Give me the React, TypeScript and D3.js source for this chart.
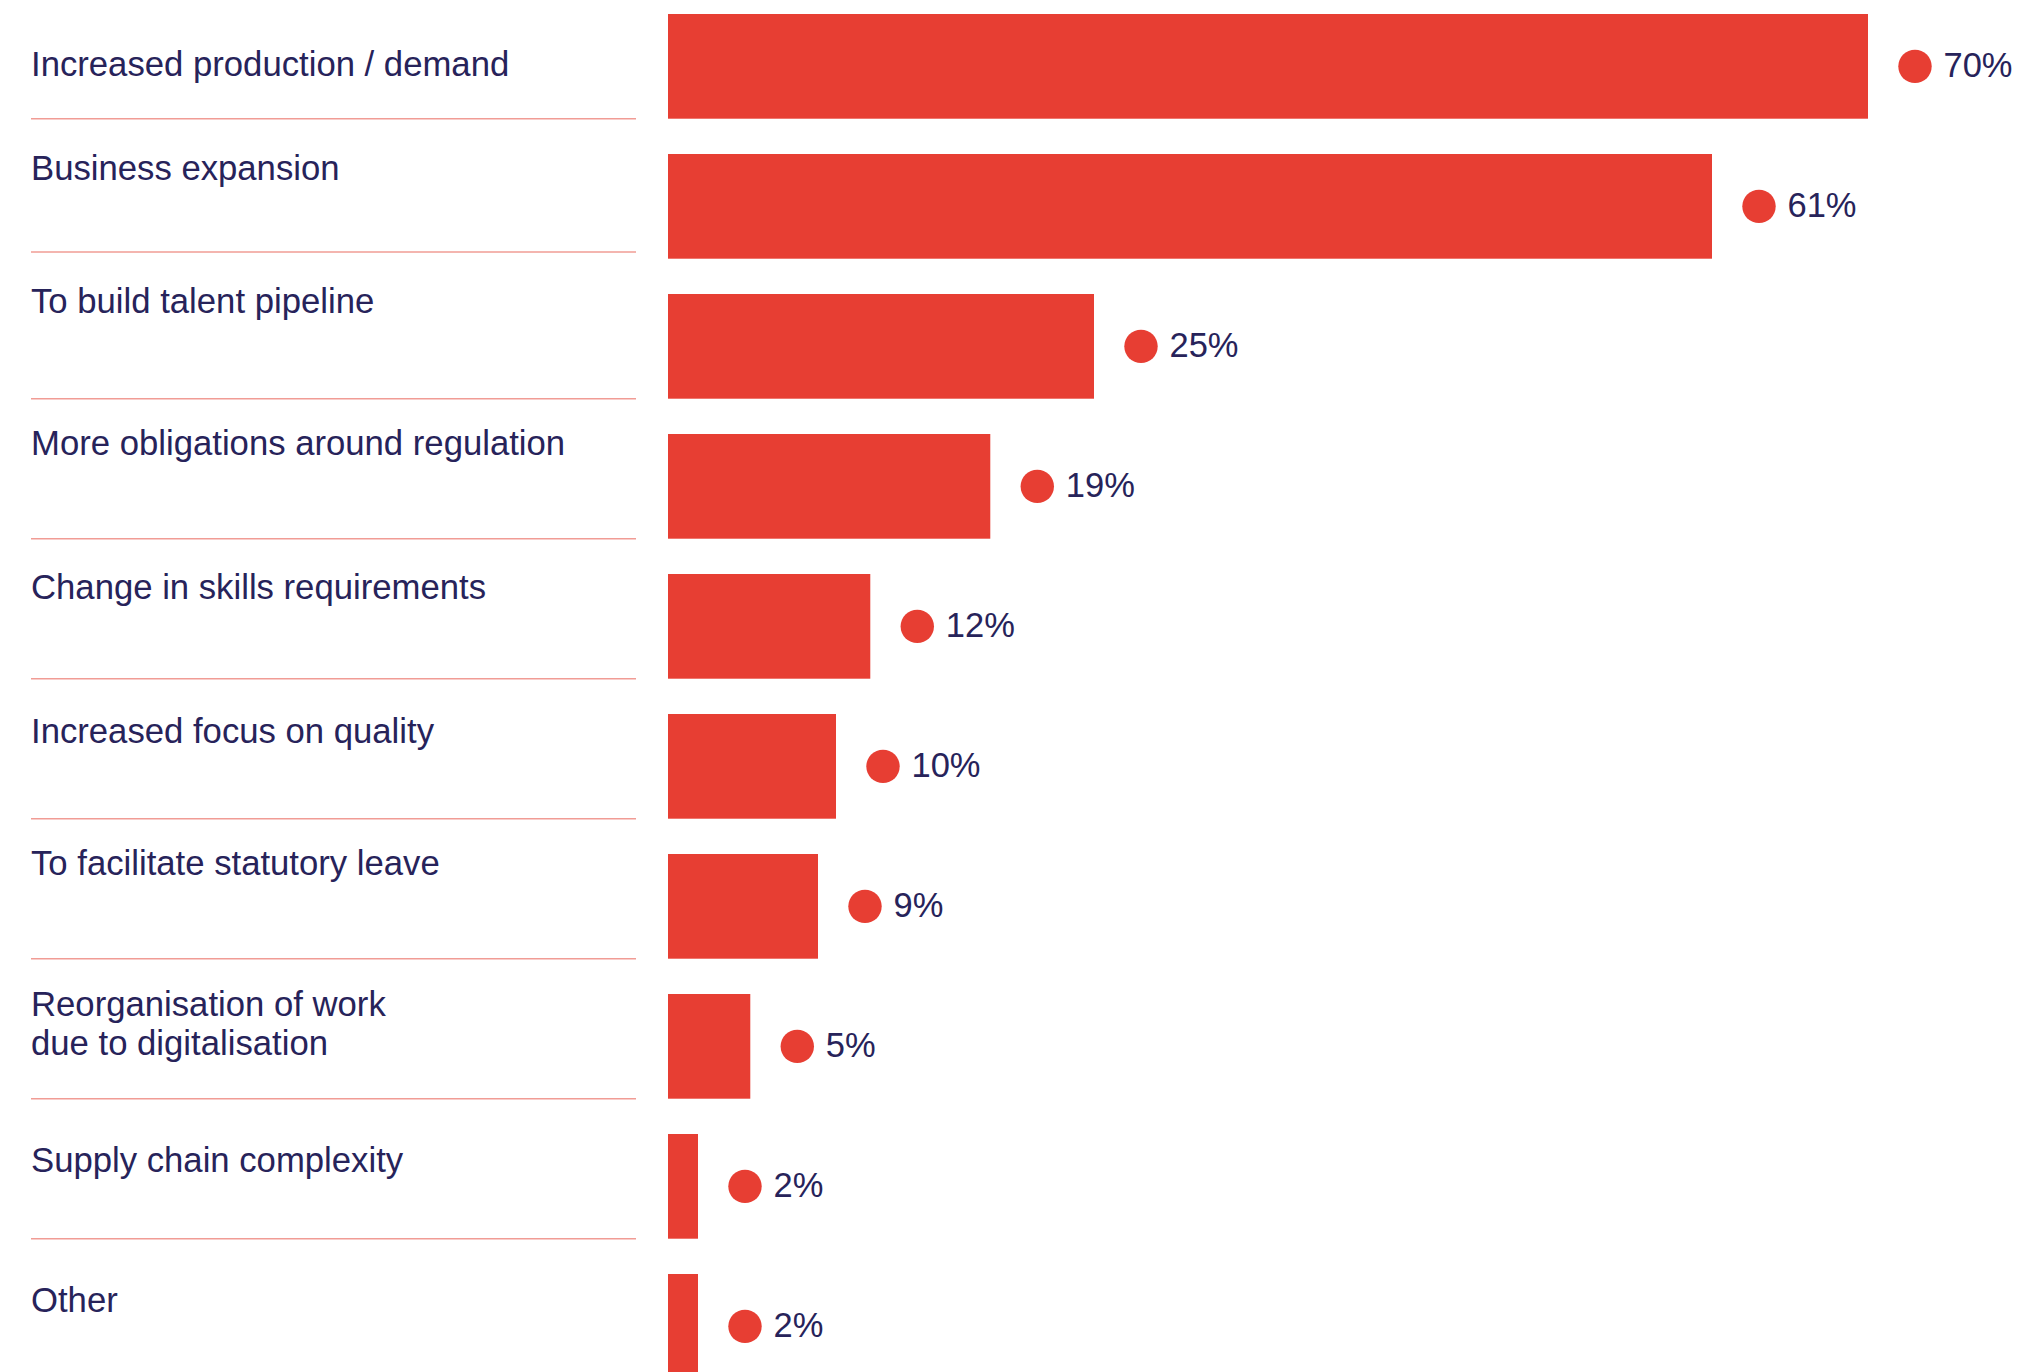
import React from "react";
import * as d3 from "d3";

const categories: string[][] = [
  ["Increased production / demand"],
  ["Business expansion"],
  ["To build talent pipeline"],
  ["More obligations around regulation"],
  ["Change in skills requirements"],
  ["Increased focus on quality"],
  ["To facilitate statutory leave"],
  ["Reorganisation of work", "due to digitalisation"],
  ["Supply chain complexity"],
  ["Other"],
];

const values: number[] = [70, 60.9, 24.85, 18.8, 11.8, 9.8, 8.75, 4.8, 1.75, 1.75];

// layout (not data): label baseline offsets from row top, separator adjustments
const labelOffsets: number[] = [62, 26, 18.7, 21, 25.3, 29.3, 21, 22, 37.7, 38.3];
const sepAdjust: number[] = [0, -6.7, 0, 0, 0, 0, 0, 0, 0];

const W = 2025;
const H = 1372;
const BAR = "#E73E33";
const SEP = "#F19C95";
const TEXT = "#27235A";
const FONT = "'Liberation Sans', Arial, Helvetica, sans-serif";

export default function App() {
  const n = categories.length;
  const step = 140;
  const pad = 1 - 104.7 / step;
  const top = 14;
  const y = d3
    .scaleBand<number>()
    .domain(d3.range(n))
    .range([top, top + step * (n - pad)])
    .paddingInner(pad)
    .paddingOuter(0);
  const x0 = 668;
  const x = d3.scaleLinear().domain([0, 70]).range([x0, 1868]);
  const bw = y.bandwidth();

  return (
    <div style={{ position: "absolute", left: 0, top: 0 }}>
      <svg width={W} height={H} style={{ display: "block" }}>
        <rect width={W} height={H} fill="#ffffff" />
        {d3.range(n - 1).map((i) => {
          const yy = (y(i) as number) + bw + sepAdjust[i];
          return (
            <line
              key={"s" + i}
              x1={31}
              x2={636}
              y1={yy}
              y2={yy}
              stroke={SEP}
              strokeWidth={1.6}
            />
          );
        })}
        {categories.map((lines, i) => (
          <text
            key={"l" + i}
            x={31}
            y={(y(i) as number) + labelOffsets[i]}
            fill={TEXT}
            fontFamily={FONT}
            fontSize={34.7}
          >
            {lines.map((ln, j) => (
              <tspan key={j} x={31} dy={j === 0 ? 0 : 39}>
                {ln}
              </tspan>
            ))}
          </text>
        ))}
        {values.map((v, i) => {
          const by = y(i) as number;
          const cy = by + bw / 2;
          const cx = x(v) + 47;
          return (
            <g key={"b" + i}>
              <rect x={x0} y={by} width={x(v) - x0} height={bw} fill={BAR} />
              <circle cx={cx} cy={cy} r={16.7} fill={BAR} />
              <text
                x={cx + 28.5}
                y={cy + 11}
                fill={TEXT}
                fontFamily={FONT}
                fontSize={34.5}
              >
                {Math.round(v) + "%"}
              </text>
            </g>
          );
        })}
      </svg>
    </div>
  );
}
